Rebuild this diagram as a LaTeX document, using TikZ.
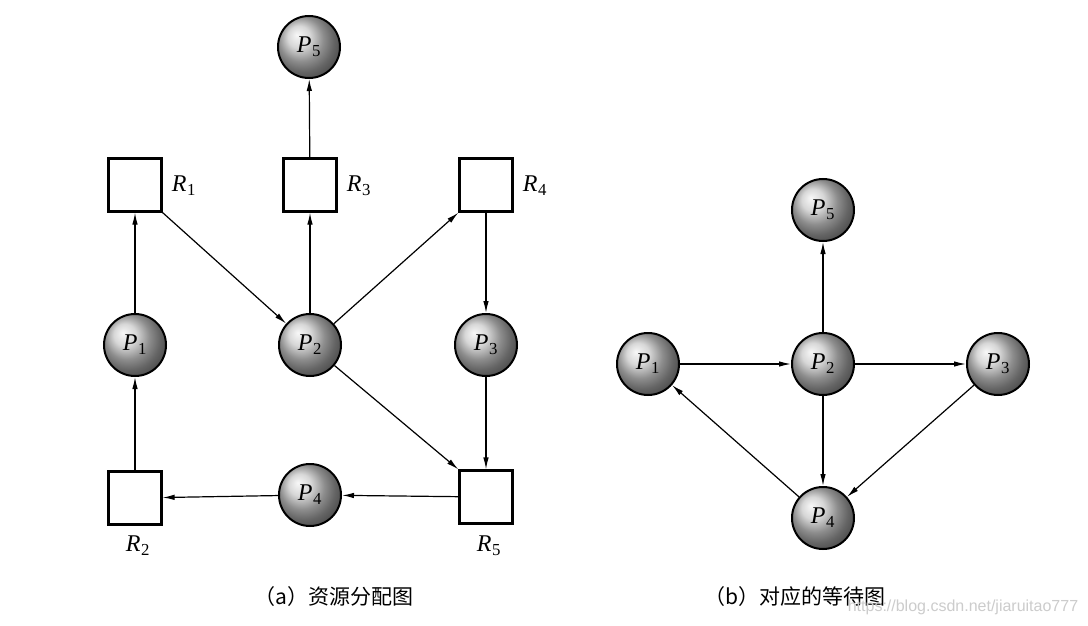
\documentclass[tikz,border=0pt]{standalone}
\usepackage{fontspec}
\setmainfont{Liberation Serif}
\newfontfamily\cjk{Noto Sans CJK SC}
\newfontfamily\wmfont{Liberation Sans}
\usetikzlibrary{arrows.meta,shadings}
\newcommand{\lbl}[2]{\textit{#1}\kern0.5pt\textsubscript{#2}}
\begin{document}
\begin{tikzpicture}[x=1pt,y=-1pt,
  proc/.style={circle,draw=black,line width=2pt,minimum size=62pt,inner sep=0pt,
    shading=ball,ball color=gray!42,font=\fontsize{24}{26}\selectfont},
  res/.style={rectangle,draw=black,line width=2.2pt,minimum size=53pt,inner sep=0pt,fill=white},
  rlab/.style={font=\fontsize{24}{26}\selectfont},
  edge/.style={line width=1.2pt,-{Latex[length=12pt,width=5.5pt]}},
  captext/.style={font=\cjk\fontsize{21}{23}\selectfont}]
\useasboundingbox[fill=white] (0,0) rectangle (1088,626);
% ---------- (a) ----------
\node[proc] (aP5) at (309,47) {\lbl{P}{5}};
\node[res] (R1) at (135,185) {};
\node[res] (R3) at (310,185) {};
\node[res] (R4) at (486,185) {};
\node[proc] (aP1) at (135,345) {\lbl{P}{1}};
\node[proc] (aP2) at (310,345) {\lbl{P}{2}};
\node[proc] (aP3) at (486,345) {\lbl{P}{3}};
\node[res] (R2) at (135,498) {};
\node[proc] (aP4) at (310,495) {\lbl{P}{4}};
\node[res] (R5) at (486,497) {};
\node[rlab] (lR1) at (184,186) {\lbl{R}{1}};
\node[rlab] (lR3) at (359,186) {\lbl{R}{3}};
\node[rlab] (lR4) at (535,186) {\lbl{R}{4}};
\node[rlab] (lR2) at (138,546) {\lbl{R}{2}};
\node[rlab] (lR5) at (489,546) {\lbl{R}{5}};
\draw[edge] (aP1) -- (R1);
\draw[edge] (R1.south east) -- (aP2);
\draw[edge] (aP2) -- (R3);
\draw[edge] (R3) -- (aP5);
\draw[edge] (aP2) -- (R4.south west);
\draw[edge] (R4) -- (aP3);
\draw[edge] (aP3) -- (R5);
\draw[edge] (aP2) -- (R5.north west);
\draw[edge] (R5) -- (aP4);
\draw[edge] (aP4) -- (R2);
\draw[edge] (R2) -- (aP1);
\node[captext] (capa) at (334,597) {（a）资源分配图};
% ---------- (b) ----------
\node[proc] (bP5) at (823,210) {\lbl{P}{5}};
\node[proc] (bP1) at (648,364) {\lbl{P}{1}};
\node[proc] (bP2) at (823,364) {\lbl{P}{2}};
\node[proc] (bP3) at (998,364) {\lbl{P}{3}};
\node[proc] (bP4) at (823,518) {\lbl{P}{4}};
\draw[edge] (bP1) -- (bP2);
\draw[edge] (bP2) -- (bP5);
\draw[edge] (bP2) -- (bP3);
\draw[edge] (bP2) -- (bP4);
\draw[edge] (bP3) -- (bP4);
\draw[edge] (bP4) -- (bP1);
\node[captext] (capb) at (795,597) {（b）对应的等待图};
\node[font=\wmfont\fontsize{16}{18}\selectfont,text=gray!40] (wm) at (963,607) {https://blog.csdn.net/jiaruitao777};
\end{tikzpicture}
\end{document}
